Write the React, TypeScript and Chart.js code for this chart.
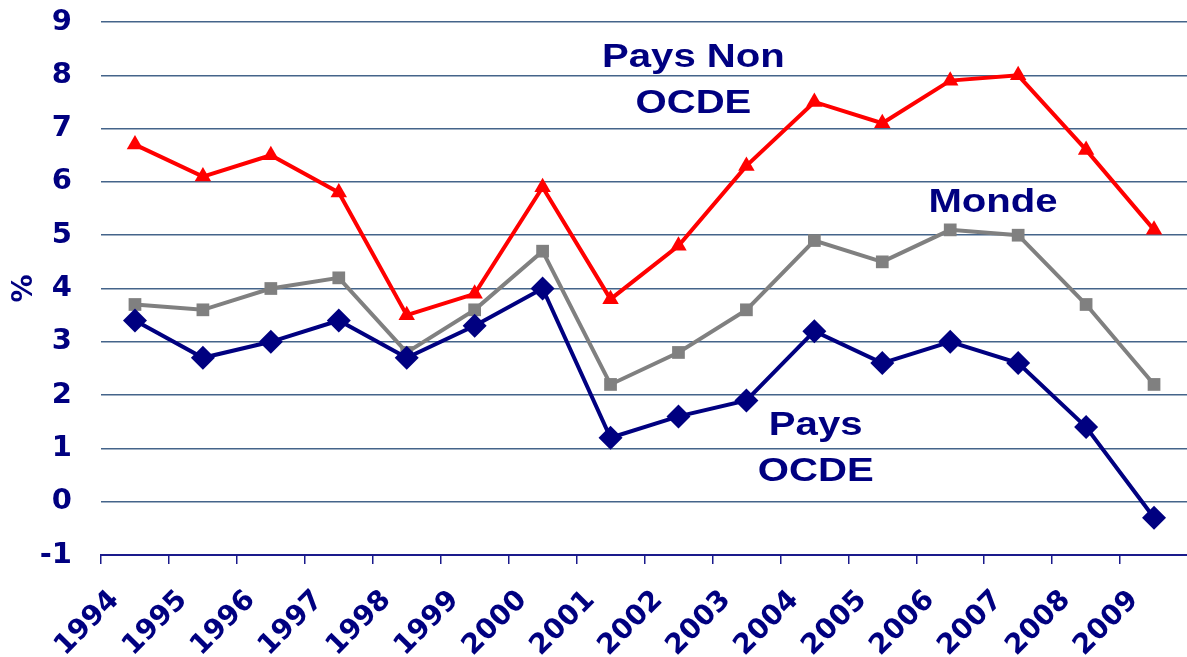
import React, { useEffect, useRef } from "react";
import { Chart, registerables } from "chart.js";

Chart.register(...registerables);

const years = ["1994","1995","1996","1997","1998","1999","2000","2001","2002","2003","2004","2005","2006","2007","2008","2009"];
const paysNonOcde = [6.7, 6.1, 6.5, 5.8, 3.5, 3.9, 5.9, 3.8, 4.8, 6.3, 7.5, 7.1, 7.9, 8.0, 6.6, 5.1];
const monde = [3.7, 3.6, 4.0, 4.2, 2.8, 3.6, 4.7, 2.2, 2.8, 3.6, 4.9, 4.5, 5.1, 5.0, 3.7, 2.2];
const paysOcde = [3.4, 2.7, 3.0, 3.4, 2.7, 3.3, 4.0, 1.2, 1.6, 1.9, 3.2, 2.6, 3.0, 2.6, 1.4, -0.3];

const NAVY = "#000080";
const FONT = "'Liberation Sans', Arial, sans-serif";
const TICK_FONT = "'DejaVu Sans', sans-serif";

const annotations = [
  { lines: ["Pays Non", "OCDE"], x: 8.22, y: 7.9 },
  { lines: ["Monde"], x: 12.63, y: 5.62 },
  { lines: ["Pays", "OCDE"], x: 10.02, y: 1.0 },
];

const textPlugin = {
  id: "seriesText",
  afterDatasetsDraw(chart: any) {
    const ctx = chart.ctx;
    const xs = chart.scales.x;
    const ys = chart.scales.y;
    ctx.save();
    ctx.fillStyle = NAVY;
    ctx.font = `bold 34px ${FONT}`;
    ctx.textAlign = "center";
    ctx.textBaseline = "middle";
    const lh = 46;
    for (const a of annotations) {
      const cx = xs.getPixelForValue(a.x);
      const cy = ys.getPixelForValue(a.y);
      const n = a.lines.length;
      a.lines.forEach((t, i) => {
        const yy = cy + (i - (n - 1) / 2) * lh;
        ctx.save();
        ctx.translate(cx, yy);
        ctx.scale(1.18, 1);
        ctx.fillText(t, 0, 0);
        ctx.restore();
      });
    }
    ctx.restore();
  },
};

export default function App() {
  const ref = useRef<HTMLCanvasElement>(null);
  useEffect(() => {
    if (!ref.current) return;
    const chart = new Chart(ref.current, {
      type: "line",
      data: {
        labels: years,
        datasets: [
          {
            label: "Pays OCDE",
            data: paysOcde,
            borderColor: NAVY,
            backgroundColor: NAVY,
            borderWidth: 4,
            pointStyle: "rectRot",
            pointRadius: 12,
            pointBorderWidth: 0,
            tension: 0,
          },
          {
            label: "Monde",
            data: monde,
            borderColor: "#808080",
            backgroundColor: "#808080",
            borderWidth: 4,
            pointStyle: "rect",
            pointRadius: 9,
            pointBorderWidth: 0,
            tension: 0,
          },
          {
            label: "Pays Non OCDE",
            data: paysNonOcde,
            borderColor: "#ff0000",
            backgroundColor: "#ff0000",
            borderWidth: 4,
            pointStyle: "triangle",
            pointRadius: 9.5,
            pointBorderWidth: 0,
            tension: 0,
          },
        ],
      },
      options: {
        responsive: false,
        animation: false,
        layout: { padding: { top: 22, left: 0, right: 0, bottom: 0 } },
        plugins: { legend: { display: false }, tooltip: { enabled: false } },
        scales: {
          x: {
            offset: true,
            grid: {
              offset: true,
              drawOnChartArea: false,
              drawTicks: true,
              tickLength: 9,
              color: "#1a1a8c",
              lineWidth: 1.5,
            },
            border: { display: true, color: "#1a1a8c", width: 2 },
            ticks: {
              minRotation: 45,
              maxRotation: 45,
              autoSkip: false,
              labelOffset: -20,
              padding: 20,
              color: NAVY,
              font: { family: TICK_FONT, size: 28, weight: "bold" },
            },
            afterFit: (s: any) => { s.height = 102; },
          },
          y: {
            min: -1,
            max: 9,
            ticks: {
              stepSize: 1,
              padding: 29,
              color: NAVY,
              font: { family: TICK_FONT, size: 29, weight: "bold" },
            },
            grid: { drawTicks: false, color: "#44648a", lineWidth: 1.5 },
            border: { display: false },
            title: {
              display: true,
              text: "%",
              color: NAVY,
              font: { family: TICK_FONT, size: 28, weight: "bold" },
              padding: { top: 8, bottom: 4 },
            },
            afterFit: (s: any) => { s.width = 101; s.paddingTop = 0; s.paddingBottom = 0; },
          },
        },
      },
      plugins: [textPlugin],
    });
    return () => chart.destroy();
  }, []);
  return (
    <div style={{ position: "fixed", left: 0, top: 0, width: 1187, height: 657, overflow: "hidden", background: "#fff" }}>
      <canvas ref={ref} width={1200} height={657} style={{ display: "block" }} />
    </div>
  );
}
